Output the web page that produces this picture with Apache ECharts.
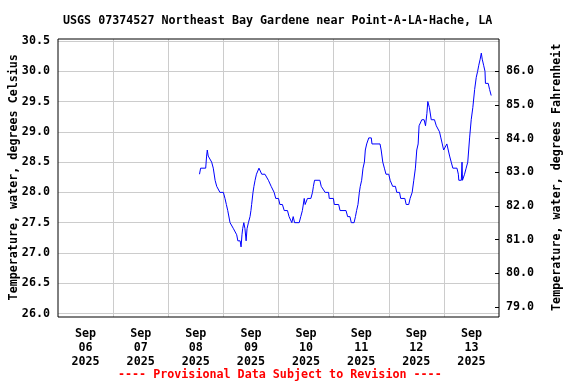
<!DOCTYPE html>
<html><head><meta charset="utf-8">
<script src="https://cdn.jsdelivr.net/npm/echarts@6/dist/echarts.min.js"></script>
<style>html,body{margin:0;padding:0;background:#fff}#c{width:576px;height:384px}</style>
</head><body><div id="c"></div>
<script>
const titleText = "USGS 07374527 Northeast Bay Gardene near Point-A-LA-Hache, LA";
const footerText = "---- Provisional Data Subject to Revision ----";
const leftAxisName = "Temperature, water, degrees Celsius";
const rightAxisName = "Temperature, water, degrees Fahrenheit";
const dayLabels = ["Sep\n06\n2025","Sep\n07\n2025","Sep\n08\n2025","Sep\n09\n2025","Sep\n10\n2025","Sep\n11\n2025","Sep\n12\n2025","Sep\n13\n2025"];
// hours since 2025-09-06 00:00
const hours = [61.6,62.1,64.3,64.7,65.0,65.4,66.2,66.9,67.6,68.4,69.1,70.5,72.0,72.7,73.3,73.9,74.9,76.4,77.8,78.3,79.3,79.7,80.1,80.4,80.9,81.4,81.9,82.3,82.9,83.6,84.0,84.3,84.9,85.3,85.8,86.4,86.9,87.5,88.0,88.7,90.1,90.8,91.6,92.8,93.4,94.1,94.8,96.0,96.6,97.7,98.5,99.9,100.6,101.4,101.8,102.4,103.0,105.0,105.7,106.4,107.2,107.6,108.2,108.6,110.1,110.8,111.2,111.7,114.0,114.6,115.4,116.3,117.8,118.1,119.9,120.3,122.2,122.8,125.4,126.1,127.1,127.7,128.9,129.5,130.0,130.6,131.2,131.6,132.2,132.8,133.4,133.8,134.4,135.3,136.4,136.7,140.2,140.7,141.4,142.1,142.8,144.0,144.6,145.7,146.9,147.5,148.7,149.2,151.0,151.6,152.7,153.3,154.2,154.9,155.6,156.2,156.8,157.2,157.8,158.4,159.4,160.0,160.6,161.0,161.7,162.5,163.9,164.7,165.4,166.1,166.7,167.3,167.9,168.7,169.3,169.9,170.5,171.2,171.9,173.7,174.3,174.5,175.6,175.9,176.1,176.3,177.0,177.7,178.4,179.2,179.9,180.6,181.4,182.1,182.7,183.2,183.8,184.3,184.7,185.3,185.9,186.1,187.3,187.9,188.6];
const tempC = [28.3,28.4,28.4,28.6,28.7,28.6,28.6,28.5,28.4,28.2,28.1,28.0,28.0,27.9,27.8,27.7,27.5,27.4,27.3,27.2,27.2,27.1,27.3,27.4,27.5,27.4,27.2,27.4,27.5,27.6,27.7,27.8,28.0,28.1,28.2,28.3,28.3,28.4,28.4,28.3,28.3,28.3,28.2,28.1,28.1,28.0,27.9,27.9,27.8,27.8,27.7,27.7,27.6,27.6,27.5,27.6,27.5,27.5,27.6,27.7,27.9,27.8,27.8,27.9,27.9,28.0,28.1,28.2,28.2,28.1,28.1,28.0,28.0,27.9,27.9,27.8,27.8,27.7,27.7,27.6,27.6,27.5,27.5,27.6,27.7,27.8,28.0,28.1,28.2,28.4,28.5,28.7,28.8,28.9,28.9,28.8,28.8,28.7,28.5,28.4,28.3,28.3,28.2,28.1,28.1,28.0,28.0,27.9,27.9,27.8,27.8,27.9,28.0,28.2,28.4,28.7,28.8,29.1,29.1,29.2,29.2,29.1,29.3,29.5,29.4,29.2,29.2,29.1,29.1,29.0,28.9,28.8,28.7,28.7,28.8,28.7,28.6,28.5,28.4,28.4,28.3,28.2,28.2,28.5,28.2,28.2,28.3,28.4,28.5,28.9,29.2,29.4,29.7,29.9,30.0,30.1,30.2,30.3,30.2,30.1,30.0,29.8,29.8,29.7,29.6];
const fahrenheitTicks = [79,80,81,82,83,84,85,86];

const FONT = "'DejaVu Sans Mono', 'Liberation Mono', monospace";
const txt = {fontFamily: FONT, fontWeight: 'bold', fontSize: 11.7, color: '#000'};

const chart = echarts.init(document.getElementById('c'), null, {renderer: 'canvas'});
chart.setOption({
  animation: false,
  backgroundColor: '#fff',
  title: [
    {text: titleText, left: 63, top: 15, padding: 0, textStyle: Object.assign({}, txt)},
    {text: footerText, left: 118, top: 369, padding: 0, textStyle: Object.assign({}, txt, {color: '#ff0000'})}
  ],
  grid: [
    {left: 58, right: 77, top: 41, bottom: 70.5, show: false, containLabel: false, outerBoundsMode: 'none'},
    {left: 58, right: 77, top: 39, bottom: 67, show: true, borderColor: '#000', borderWidth: 1, backgroundColor: 'transparent', z: 5, containLabel: false, outerBoundsMode: 'none'}
  ],
  xAxis: [
    {type: 'value', gridIndex: 0, min: 0, max: 192, show: false},
    {type: 'category', gridIndex: 1, data: dayLabels, boundaryGap: true,
     axisLine: {show: false}, axisTick: {show: false},
     splitLine: {show: true, interval: 0, showMinLine: false, showMaxLine: false, lineStyle: {color: '#cccccc', width: 1}},
     axisLabel: Object.assign({}, txt, {interval: 0, margin: 10, lineHeight: 14})}
  ],
  yAxis: [
    {type: 'value', gridIndex: 0, position: 'left', min: 26, max: 30.5, interval: 0.5,
     axisLine: {show: false}, axisTick: {show: false},
     splitLine: {show: true, lineStyle: {color: '#cccccc', width: 1}},
     axisLabel: Object.assign({}, txt, {margin: 8, formatter: v => v.toFixed(1)}),
     name: leftAxisName, nameLocation: 'middle', nameGap: 38, nameRotate: 90, nameMoveOverlap: false,
     nameTextStyle: Object.assign({}, txt)},
    {type: 'value', gridIndex: 0, position: 'right', min: 26 * 1.8 + 32, max: 30.5 * 1.8 + 32,
     axisLine: {show: false},
     axisTick: {show: true, inside: true, length: 4, customValues: fahrenheitTicks, lineStyle: {color: '#000'}},
     splitLine: {show: false},
     axisLabel: Object.assign({}, txt, {margin: 7, customValues: fahrenheitTicks, formatter: v => v.toFixed(1)}),
     name: rightAxisName, nameLocation: 'middle', nameGap: 52, nameRotate: 90, nameMoveOverlap: false,
     nameTextStyle: Object.assign({}, txt)},
    {type: 'value', gridIndex: 1, show: false, splitLine: {show: false}}
  ],
  series: [{
    type: 'line', xAxisIndex: 0, yAxisIndex: 0,
    data: hours.map((h, i) => [h, tempC[i]]),
    showSymbol: false, symbol: 'none',
    lineStyle: {color: '#0000ff', width: 1},
    z: 3
  }]
});
</script></body></html>
